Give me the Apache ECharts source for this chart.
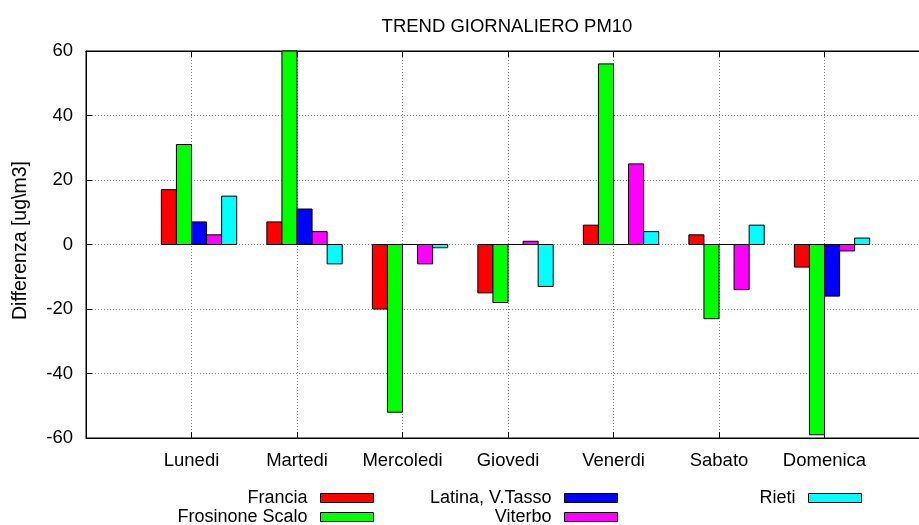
<!DOCTYPE html>
<html>
<head>
<meta charset="utf-8">
<script src="https://cdn.jsdelivr.net/npm/echarts@6/dist/echarts.min.js"></script>
<style>
  html, body { margin: 0; padding: 0; background: #fff; }
  #chart { width: 919px; height: 525px; }
</style>
</head>
<body>
<div id="chart"></div>
<script>
const days = ['Lunedi', 'Martedi', 'Mercoledi', 'Giovedi', 'Venerdi', 'Sabato', 'Domenica']
const yTicks = [-60, -40, -20, 0, 20, 40, 60]

const francia = [17, 7, -20, -15, 6, 3, -7]
const frosinone = [31, 60, -52, -18, 56, -23, -59]
const latina = [7, 11, 0, 0, 0, 0, -16]
const viterbo = [3, 4, -6, 1, 25, -14, -2]
const rieti = [15, -6, -1, -13, 4, 6, 2]

const seriesNames = ['Francia', 'Frosinone Scalo', 'Latina, V.Tasso', 'Viterbo', 'Rieti']
const seriesValues = [francia, frosinone, latina, viterbo, rieti]
const seriesColors = ['#ff0000', '#00ff00', '#0000ff', '#ff00ff', '#00ffff']

const font = 'Liberation Sans'
const barW = 1 / 7 // gnuplot style: 5 boxes + gap 2 per day

function makeSeries(idx) {
  const off = (idx - 2) * barW
  return {
    name: seriesNames[idx],
    type: 'custom',
    itemStyle: { color: seriesColors[idx] },
    data: seriesValues[idx].map((v, i) => [i, v]),
    renderItem: function (params, api) {
      const x = api.value(0)
      const y = api.value(1)
      const p0 = api.coord([x + off, 0])
      const p1 = api.coord([x + off + barW, y])
      return {
        type: 'rect',
        shape: {
          x: p0[0],
          y: Math.min(p0[1], p1[1]),
          width: p1[0] - p0[0],
          height: Math.abs(p1[1] - p0[1])
        },
        style: api.style({ stroke: '#000', lineWidth: 1 })
      }
    }
  }
}

// legend placement: [right edge of sample, row centre]
const legendPos = [[374, 497], [374, 516], [618, 497], [618, 516], [862, 497]]
const legends = seriesNames.map((n, i) => ({
  data: [n],
  align: 'right',
  right: 919 - legendPos[i][0],
  top: legendPos[i][1] - 8,
  padding: 0,
  itemWidth: 53,
  itemHeight: 9,
  icon: 'rect',
  selectedMode: false,
  itemStyle: { borderColor: '#000', borderWidth: 1 },
  textStyle: { fontFamily: font, fontSize: 18, color: '#000', padding: [0, 8, 0, 0] }
}))

const gridLine = { show: true, lineStyle: { color: '#888', type: [1, 2], width: 1 } }

const chart = echarts.init(document.getElementById('chart'))
chart.setOption({
  animation: false,
  backgroundColor: '#fff',
  title: {
    text: 'TREND GIORNALIERO PM10',
    left: 502,
    textAlign: 'center',
    top: 12,
    textStyle: { fontFamily: font, fontSize: 18.5, fontWeight: 'normal', color: '#000' }
  },
  legend: legends,
  grid: {
    left: 86, right: -11, top: 51, bottom: 87,
    outerBoundsMode: 'none',
    show: true, borderColor: '#000', borderWidth: 1
  },
  xAxis: [{
    type: 'value',
    min: -1, max: 7, interval: 1,
    axisLine: { show: true, onZero: false, lineStyle: { color: '#000' } },
    axisTick: { show: true, inside: true, length: 6, lineStyle: { color: '#000' } },
    axisLabel: {
      fontFamily: font, fontSize: 18.5, color: '#000', margin: 13,
      formatter: v => days[v] || ''
    },
    splitLine: gridLine
  }, {
    type: 'value',
    position: 'top',
    min: -1, max: 7, interval: 1,
    axisLine: { show: true, onZero: false, lineStyle: { color: '#000' } },
    axisTick: { show: true, inside: true, length: 6, lineStyle: { color: '#000' } },
    axisLabel: { show: false },
    splitLine: { show: false }
  }],
  yAxis: {
    type: 'value',
    min: yTicks[0], max: yTicks[yTicks.length - 1], interval: 20,
    name: 'Differenza [ug\\m3]',
    nameLocation: 'middle',
    nameRotate: 90,
    nameGap: 55,
    nameTextStyle: { fontFamily: font, fontSize: 19.5, color: '#000', padding: [0, 0, 0, 8] },
    axisLine: { show: true, onZero: false, lineStyle: { color: '#000' } },
    axisTick: { show: true, inside: true, length: 6, lineStyle: { color: '#000' } },
    axisLabel: { fontFamily: font, fontSize: 18.5, color: '#000', margin: 13 },
    splitLine: gridLine
  },
  series: seriesNames.map((n, i) => makeSeries(i))
})
</script>
</body>
</html>
